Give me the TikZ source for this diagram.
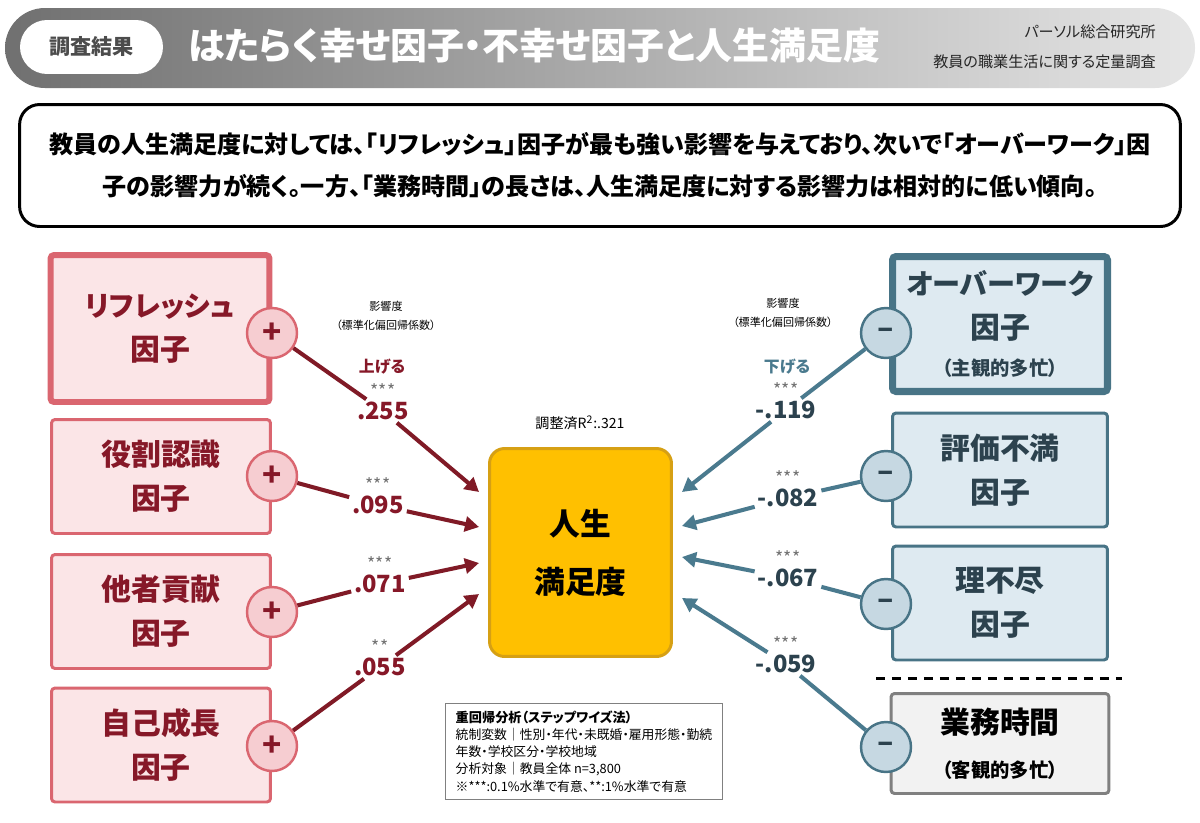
\documentclass[tikz,border=0pt]{standalone}
\usepackage{fontspec}
\setmainfont{Noto Sans CJK JP}[RawFeature=+palt]
\usetikzlibrary{arrows.meta}
\definecolor{hdrl}{RGB}{112,112,112}
\definecolor{hdrr}{RGB}{230,230,230}
\definecolor{posline}{RGB}{218,102,112}
\definecolor{posfill}{RGB}{251,229,231}
\definecolor{postext}{RGB}{134,24,40}
\definecolor{poscirc}{RGB}{246,205,209}
\definecolor{posarrow}{RGB}{128,26,38}
\definecolor{negline}{RGB}{72,116,134}
\definecolor{negfill}{RGB}{222,234,241}
\definecolor{negtext}{RGB}{44,66,78}
\definecolor{negcirc}{RGB}{198,216,226}
\definecolor{negarrow}{RGB}{74,122,142}
\definecolor{lifefill}{RGB}{255,192,0}
\definecolor{lifeline}{RGB}{214,160,20}
\begin{document}
\begin{tikzpicture}[x=0.02cm,y=-0.02cm,
  posbox/.style={draw=posline,fill=posfill,text=postext,rounded corners=2pt,align=center,
    minimum width=4.38cm,font=\bfseries\fontsize{17}{25}\selectfont},
  negbox/.style={draw=negline,fill=negfill,text=negtext,rounded corners=2pt,align=center,
    minimum width=4.3cm,font=\bfseries\fontsize{17}{25}\selectfont},
  pluscirc/.style={circle,draw=posline,fill=poscirc,line width=1.4pt,minimum size=1cm,
    inner sep=0pt,text=postext,font=\bfseries\fontsize{18}{18}\selectfont},
  minuscirc/.style={circle,draw=negline,fill=negcirc,line width=1.4pt,minimum size=1cm,
    inner sep=0pt,text=negtext,font=\bfseries\fontsize{17}{17}\selectfont},
  coef/.style={fill=white,inner sep=1.5pt,text height=10pt,text depth=0pt,
    font=\bfseries\fontsize{13.5}{14}\selectfont},
  stars/.style={text=black!55,inner sep=0pt,text height=8pt,text depth=-3.5pt,
    label distance=1pt,font=\fontsize{10}{10}\selectfont},
  small/.style={font=\fontsize{6.3}{10.8}\selectfont,align=center},
  posarr/.style={draw=posarrow,line width=2.3pt},
  negarr/.style={draw=negarrow,line width=2.3pt},
  tip/.style={-{Triangle[length=0.28cm,width=0.3cm]}}]
\useasboundingbox (0,0) rectangle (1200,822);
\fill[white] (0,0) rectangle (1200,822);
% header band
\shade[left color=hdrl,right color=hdrr,rounded corners=0.8cm] (5,8) rectangle (1195,88);
\node[fill=white,rounded corners=0.54cm,minimum width=2.86cm,minimum height=1.08cm,
  text=black!70,font=\bfseries\fontsize{12}{12}\selectfont] (tag) at (91.5,47) {調査結果};
\node[anchor=west,text=white,font=\bfseries\fontsize{21}{21}\selectfont] (title) at (182,46)
  {はたらく幸せ因子・不幸せ因子と人生満足度};
\node[anchor=east,text=black!85,font=\fontsize{8.6}{9}\selectfont] (org) at (1162,32) {パーソル総合研究所};
\node[anchor=east,text=black!85,font=\fontsize{8.6}{9}\selectfont] (survey) at (1162,62) {教員の職業生活に関する定量調査};
% message
\node[draw,line width=1.7pt,rounded corners=0.4cm,minimum width=23.22cm,minimum height=2.44cm,
  align=center,font=\bfseries\fontsize{13.7}{23.8}\selectfont] (msg) at (600,165.5)
  {教員の人生満足度に対しては、「リフレッシュ」因子が最も強い影響を与えており、次いで「オーバーワーク」因\\
   子の影響力が続く。一方、「業務時間」の長さは、人生満足度に対する影響力は相対的に低い傾向。};
% positive factors
\node[posbox,line width=3.4pt,minimum height=2.94cm] (refresh) at (160,328.5)
  {{\fontsize{16}{25}\selectfont リフレッシュ}\\因子};
\foreach \n/\y/\t in {role/476.5/役割認識,other/611.5/他者貢献,growth/745/自己成長}
  \node[posbox,line width=1.7pt,minimum height=2.28cm] (\n) at (161,\y) {\t\\因子};
\foreach \i/\y in {1/333,2/476,3/612,4/746}
  \node[pluscirc] (p\i) at (272,\y) {+};
% negative factors
\node[negbox,line width=4pt,minimum height=2.7cm] (over) at (1000,324)
  {{\fontsize{16}{25}\selectfont オーバーワーク}\\因子\\[-4pt]{\fontsize{11}{14}\selectfont （主観的多忙）}};
\node[negbox,line width=1.7pt,minimum height=2.28cm] (eval) at (1000,470) {評価不満\\因子};
\node[negbox,line width=1.7pt,minimum height=2.28cm] (unfair) at (1000,603) {理不尽\\因子};
\draw[line width=1.7pt,dash pattern=on 5.1pt off 4pt] (876,678) -- (1122,678);
\node[draw=black!50,fill=black!5,line width=1.7pt,rounded corners=2pt,minimum width=4.36cm,
  minimum height=2cm,align=center,font=\bfseries\fontsize{17}{25}\selectfont] (hours) at (1000,743.5)
  {業務時間\\{\fontsize{11}{14}\selectfont （客観的多忙）}};
\foreach \i/\y in {1/333,2/476,3/604,4/747}
  \node[minuscirc] (m\i) at (886,\y) {–};
% outcome
\node[draw=lifeline,fill=lifefill,line width=1.7pt,rounded corners=0.3cm,minimum width=3.64cm,
  minimum height=4.16cm,align=center,font=\bfseries\fontsize{17.5}{33}\selectfont] (life) at (580.5,552.5)
  {人生\\満足度};
\node[font=\fontsize{8}{8}\selectfont] (r2) at (580,423) {調整済R\textsuperscript{2}:.321};
\foreach \i/\y in {1/492,2/527,3/563,4/594}
  \coordinate (lin\i) at (479,\y);
\foreach \i/\y in {1/492,2/526,3/557,4/598}
  \coordinate (rin\i) at (682,\y);
% coefficients
\node[small] (lhead) at (386,316) {影響度\\（標準化偏回帰係数）};
\node[small] (rhead) at (783,313) {影響度\\（標準化偏回帰係数）};
\node[text=postext,font=\bfseries\fontsize{9}{9}\selectfont] (up) at (382,367) {上げる};
\node[text=negarrow,font=\bfseries\fontsize{9}{9}\selectfont] (down) at (787,367) {下げる};
\foreach \i/\x/\y/\v/\s in {1/383/411/.255/***,2/378/505/.095/***,3/380/584/.071/***,4/380/667/.055/**}
  \node[coef,text=postext,label={[stars]above:\s}] (k\i) at (\x,\y) {\v};
\foreach \i/\x/\y/\v in {1/786/410/-.119,2/788/498/-.082,3/788/578/-.067,4/786/664/-.059}
  \node[coef,text=negtext,label={[stars]above:***}] (q\i) at (\x,\y) {\v};
\foreach \i in {1,...,4} {
  \draw[posarr] (p\i) -- (k\i);
  \draw[posarr,tip] (k\i) -- (lin\i);
  \draw[negarr] (m\i) -- (q\i);
  \draw[negarr,tip] (q\i) -- (rin\i);
}
% note
\node[draw=black!50,line width=0.8pt,fill=white,align=left,inner xsep=0.2cm,inner ysep=0.15cm,
  font=\fontsize{7.3}{9.8}\selectfont] (note) at (584,751.5)
  {{\bfseries\fontsize{7.5}{11}\selectfont 重回帰分析（ステップワイズ法）}\\
   統制変数｜性別・年代・未既婚・雇用形態・勤続\\
   年数・学校区分・学校地域\\
   分析対象｜教員全体 n=3,800\\
   ※***:0.1\%水準で有意、**:1\%水準で有意};
\end{tikzpicture}
\end{document}
